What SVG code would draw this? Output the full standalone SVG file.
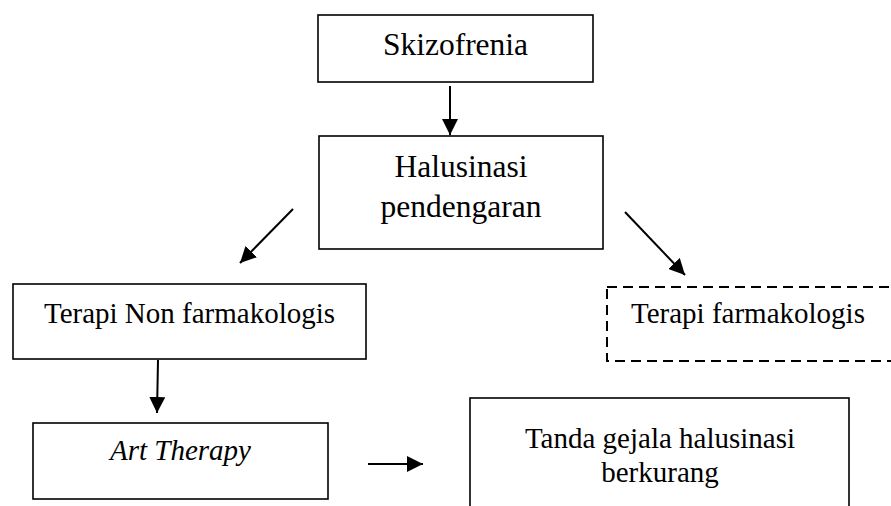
<svg xmlns="http://www.w3.org/2000/svg" width="891" height="506" viewBox="0 0 891 506">
  <style>
    .box { fill: #ffffff; stroke: #000000; stroke-width: 1.6; }
    .dashed { stroke-dasharray: 10 6; stroke-width: 2; }
    .label { font-family: "Liberation Serif", "Times New Roman", serif; fill: #000000; text-anchor: middle; }
    .top { font-size: 31.5px; }
    .low { font-size: 29px; }
    .edge { stroke: #000000; stroke-width: 2; fill: none; marker-end: url(#arrow); }
  </style>
  <defs>
    <marker id="arrow" markerUnits="userSpaceOnUse" markerWidth="16" markerHeight="16" viewBox="0 0 16 16" refX="16" refY="8" orient="auto">
      <path d="M0,0 L16,8 L0,16 Z" fill="#000000"/>
    </marker>
  </defs>
  <rect width="891" height="506" fill="#ffffff"/>

  <g id="skizofrenia">
    <rect class="box" x="318" y="15" width="275" height="67"/>
    <text class="label top" x="455.5" y="55">Skizofrenia</text>
  </g>

  <g id="halusinasi-pendengaran">
    <rect class="box" x="319" y="136" width="284" height="113"/>
    <text class="label top" x="461" y="177">Halusinasi</text>
    <text class="label top" x="461" y="217">pendengaran</text>
  </g>

  <g id="terapi-non-farmakologis">
    <rect class="box" x="13" y="284" width="353" height="75"/>
    <text class="label low" x="189.5" y="323">Terapi Non farmakologis</text>
  </g>

  <g id="terapi-farmakologis">
    <rect class="box dashed" x="607" y="287" width="300" height="74"/>
    <text class="label low" x="748" y="323">Terapi farmakologis</text>
  </g>

  <g id="art-therapy">
    <rect class="box" x="33" y="423" width="295" height="76"/>
    <text class="label low" x="180.5" y="460" font-style="italic">Art Therapy</text>
  </g>

  <g id="tanda-gejala">
    <rect class="box" x="470" y="398" width="379" height="120"/>
    <text class="label low" x="660" y="448">Tanda gejala halusinasi</text>
    <text class="label low" x="660" y="482">berkurang</text>
  </g>

  <g id="connectors">
    <line class="edge" x1="450" y1="86" x2="450" y2="135"/>
    <line class="edge" x1="293" y1="209" x2="240" y2="263"/>
    <line class="edge" x1="625" y1="212" x2="685" y2="275"/>
    <line class="edge" x1="158" y1="360" x2="157" y2="413"/>
    <line class="edge" x1="368" y1="464" x2="423" y2="464"/>
  </g>
</svg>
